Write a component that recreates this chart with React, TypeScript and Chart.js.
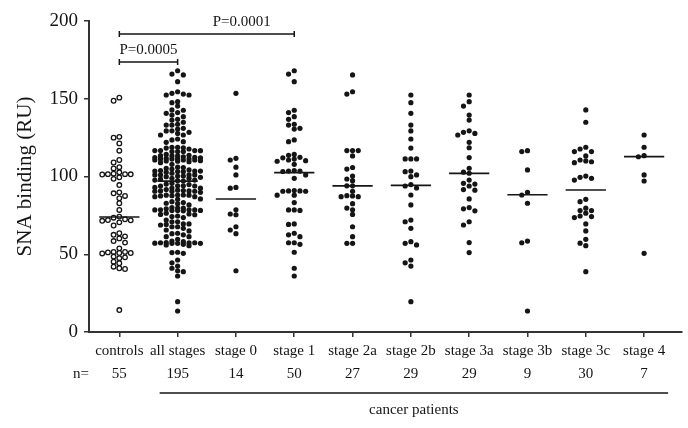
import React, { useEffect, useRef } from "react";
import { Chart, registerables } from "chart.js";

Chart.register(...registerables);

const categories = ["controls", "all stages", "stage 0", "stage 1", "stage 2a", "stage 2b", "stage 3a", "stage 3b", "stage 3c", "stage 4"];
const counts = [55, 195, 14, 50, 27, 29, 29, 9, 30, 7];
const yTicks = [0, 50, 100, 150, 200];

const controls = [150.7, 148.7, 125.5, 125, 121.3, 116.6, 110.6, 109, 106, 105.2, 102.7,
  101.8, 101.5, 101.3, 101.5, 101.4, 99.5, 98.5,
  94.5, 89.8, 89.2, 87.5, 86, 82.8, 78.5,
  74.2, 73.5, 72.5, 72, 71.8, 71.5, 70.5,
  68.5, 63.5, 62.5, 61.5, 60.2, 58.5, 57.5, 53.8,
  51.5, 50.8, 50.5, 50.8, 51.2, 51.5, 48.5, 48, 47.5,
  45.2, 44.2, 42, 41, 40.5, 14.1];
const stage0 = [153.5, 111.7, 110.6, 106, 101, 93, 92.5, 78.6, 75.9, 75.4, 67.7, 65.6, 63.2, 39.4];
const stage1 = [168, 165.9, 161, 142.6, 141.1, 138.5, 136.8, 133.6, 131, 130.5, 133.1, 123.5, 122.4, 113.6, 112, 111.2, 112.3, 114.2, 110.2, 107.8, 109.8, 110.6, 103.8, 103.5, 103.2, 103.5, 101, 98.8, 91, 90.5, 90.7, 90.5, 90.7, 88, 88, 83.2, 78.5, 78.2, 78.5, 69.5, 69.2, 63.5, 62.5, 61.3, 57.4, 56.4, 57.4, 51.3, 41, 36];
const stage2a = [165.3, 154.5, 153, 116.7, 116.7, 116.7, 113.2, 105.8, 104.8, 100.3, 98.4, 97.3, 94, 94, 90.5, 87.7, 87.5, 87, 87, 82.5, 79.7, 78.6, 75.6, 67.7, 61.3, 57, 57];
const stage2b = [152.4, 147.5, 140.6, 133.1, 129.3, 124.1, 118.3, 111.3, 111.3, 111.3, 103.5, 103.1, 101, 99.9, 94.8, 93.9, 92.6, 88.1, 81.7, 72, 70.9, 66.7, 58.1, 57, 56, 46.3, 44.5, 42.4, 19.5];
const stage3a = [152.4, 148.1, 145.3, 139.5, 136.3, 129.4, 128.4, 127.7, 126.7, 122, 118.5, 112.2, 105.3, 102.8, 102.1, 97.7, 95.6, 95.1, 93.9, 91.6, 91.2, 85.6, 80, 79.2, 77.9, 70.9, 68.8, 57.5, 51.1];
const stage3b = [116.6, 116, 104.2, 89.8, 88.1, 82.8, 58.5, 57.4, 13.5];
const stage3c = [142.8, 134.9, 118.8, 117.7, 116, 116, 113.2, 110.6, 110, 109.5, 108.9, 100.3, 99.5, 98.8, 97.7, 85.3, 83.8, 79.6, 78.1, 78.1, 76.4, 74.6, 74.2, 73.6, 69.5, 65, 59.6, 57.1, 55.5, 38.8];
const stage4 = [126.7, 118.8, 113.4, 112.7, 101, 97.1, 50.6];
const allStages = [...stage0, ...stage1, ...stage2a, ...stage2b, ...stage3a, ...stage3b, ...stage3c, ...stage4];

const groups = [controls, allStages, stage0, stage1, stage2a, stage2b, stage3a, stage3b, stage3c, stage4];
const medians = [74, 97, 85.5, 102.5, 94, 94.3, 102, 88.3, 91.3, 112.8];

const pLabels = ["P=0.0005", "P=0.0001"];
const pSpans = [[0, 1], [0, 3]];
const pLevels = [173.6, 191.6];

const FONT = "'Liberation Serif', 'DejaVu Serif', serif";
const INK = "#151515";

// beeswarm layout (pixel-space estimates converted to category units)
const PX_PER_Y = 311 / 200;
const PX_PER_X = 58.3;
function swarm(values: number[], idx: number, minD: number, maxSteps: number) {
  const step = 5.7;
  const sorted = values.map((v, i) => ({ v, i })).sort((a, b) => b.v - a.v);
  const placed: { v: number; o: number }[] = [];
  const out: { x: number; y: number }[] = [];
  for (const p of sorted) {
    let chosen: number | null = null;
    let best = 0;
    let bestD = -1;
    for (let k = 0; k <= maxSteps * 2; k++) {
      const m = k === 0 ? 0 : (k % 2 === 1 ? -Math.ceil(k / 2) : Math.ceil(k / 2));
      const o = m * step;
      let dMin = Infinity;
      for (const q of placed) {
        const dy = (p.v - q.v) * PX_PER_Y;
        const dx = o - q.o;
        const d = Math.sqrt(dx * dx + dy * dy);
        if (d < dMin) dMin = d;
      }
      if (dMin >= minD) { chosen = o; break; }
      if (dMin > bestD) { bestD = dMin; best = o; }
    }
    const o = chosen === null ? best : chosen;
    placed.push({ v: p.v, o });
    out.push({ x: idx + o / PX_PER_X, y: p.v });
  }
  return out;
}

const annot = {
  id: "annot",
  afterDraw(chart: any) {
    const { ctx, scales } = chart;
    const xs = scales.x;
    const ys = scales.y;
    ctx.save();
    ctx.fillStyle = INK;
    ctx.strokeStyle = INK;
    // y title
    ctx.save();
    ctx.translate(25, (ys.top + ys.bottom) / 2);
    ctx.rotate(-Math.PI / 2);
    ctx.font = `21px ${FONT}`;
    ctx.textAlign = "center";
    ctx.textBaseline = "middle";
    ctx.fillText("SNA binding (RU)", 0, 0);
    ctx.restore();

    ctx.font = `15px ${FONT}`;
    ctx.textAlign = "center";
    ctx.textBaseline = "middle";
    const nY = ys.bottom + 42;
    ctx.fillText("n=", 81, nY);
    counts.forEach((c, i) => ctx.fillText(String(c), xs.getPixelForValue(i), nY));
    const lx1 = xs.getPixelForValue(1) - 18;
    const lx2 = xs.getPixelForValue(9) + 24;
    const lineY = ys.bottom + 61;
    ctx.lineWidth = 1.5;
    ctx.beginPath();
    ctx.moveTo(lx1, lineY);
    ctx.lineTo(lx2, lineY);
    ctx.stroke();
    ctx.fillText("cancer patients", (lx1 + lx2) / 2, lineY + 17);

    // significance brackets
    ctx.lineWidth = 1.5;
    pLabels.forEach((lab, k) => {
      const y = ys.getPixelForValue(pLevels[k]);
      const x1 = xs.getPixelForValue(pSpans[k][0]);
      const x2 = xs.getPixelForValue(pSpans[k][1]);
      ctx.beginPath();
      ctx.moveTo(x1, y); ctx.lineTo(x2, y);
      ctx.moveTo(x1, y - 3); ctx.lineTo(x1, y + 3);
      ctx.moveTo(x2, y - 3); ctx.lineTo(x2, y + 3);
      ctx.stroke();
      const tx = k === 0 ? (x1 + x2) / 2 : xs.getPixelForValue(2.1);
      ctx.fillText(lab, tx, y - 12);
    });
    ctx.restore();
  },
};

export default function App() {
  const ref = useRef<HTMLCanvasElement>(null);
  useEffect(() => {
    if (!ref.current) return;
    const controlPts = swarm(controls, 0, 4.6, 3);
    const cancerPts: { x: number; y: number }[] = [];
    groups.forEach((g, i) => { if (i > 0) cancerPts.push(...swarm(g, i, i === 1 ? 4.2 : 4.6, i === 1 ? 4 : 3)); });
    const medianSets = medians.map((m, i) => ({
      type: "line" as const,
      data: [{ x: i - 0.345, y: m }, { x: i + 0.345, y: m }],
      borderColor: INK,
      borderWidth: 1.6,
      pointRadius: 0,
      order: 0,
    }));
    const chart = new Chart(ref.current, {
      type: "scatter",
      data: {
        datasets: [
          { data: controlPts, pointRadius: 2.3, pointBackgroundColor: "#fff", pointBorderColor: INK, pointBorderWidth: 1.3, order: 2 } as any,
          { data: cancerPts, pointRadius: 2.6, pointBackgroundColor: INK, pointBorderColor: INK, pointBorderWidth: 0, order: 1 } as any,
          ...medianSets,
        ],
      },
      options: {
        animation: false,
        responsive: false,
        layout: { padding: { top: 21, right: 6, left: 0, bottom: 0 } },
        plugins: { legend: { display: false }, tooltip: { enabled: false } },
        scales: {
          x: {
            type: "linear",
            min: -0.52,
            max: 9.65,
            afterBuildTicks: (s: any) => { s.ticks = categories.map((_, i) => ({ value: i })); },
            afterFit: (s: any) => { s.height = 96; },
            ticks: {
              autoSkip: false,
              maxRotation: 0,
              padding: 5,
              color: INK,
              font: { family: FONT, size: 15 },
              callback: (_v: any, i: number) => categories[i],
            },
            grid: { drawOnChartArea: false, drawTicks: true, tickLength: 5, color: "#333", lineWidth: 1.5 },
            border: { color: "#333", width: 2 },
          },
          y: {
            min: 0,
            max: 200,
            afterBuildTicks: (s: any) => { s.ticks = yTicks.map((v) => ({ value: v })); },
            afterFit: (s: any) => { s.width = 89; },
            ticks: { padding: 6, color: INK, font: { family: FONT, size: 19 } },
            grid: { drawOnChartArea: false, drawTicks: true, tickLength: 5, color: "#333", lineWidth: 1.5 },
            border: { color: "#333", width: 2 },
          },
        },
      } as any,
      plugins: [annot],
    });
    return () => chart.destroy();
  }, []);
  return (
    <div style={{ position: "absolute", left: 0, top: 0, width: 688, height: 428, background: "#fff" }}>
      <canvas ref={ref} width={688} height={428} style={{ width: 688, height: 428 }} />
    </div>
  );
}
